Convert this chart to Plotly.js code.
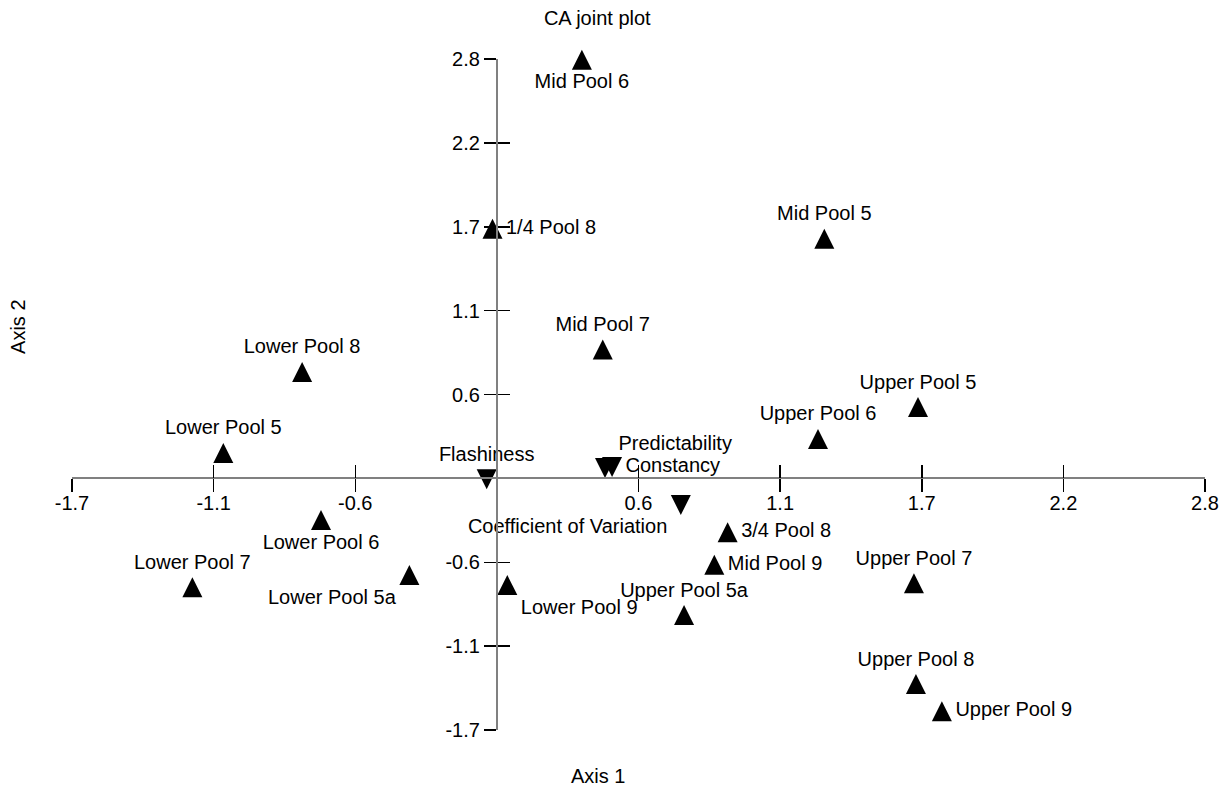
<!DOCTYPE html>
<html><head><meta charset="utf-8">
<script src="https://cdn.plot.ly/plotly-3.0.1.min.js"></script>
<style>html,body{margin:0;padding:0;background:#fff}#chart{width:1229px;height:787px}</style>
</head><body><div id="chart"></div>
<script>
// Sample units (sites)
const siteNames = ['Mid Pool 6','1/4 Pool 8','Mid Pool 5','Mid Pool 7','Lower Pool 8','Upper Pool 5',
  'Upper Pool 6','Lower Pool 5','Lower Pool 6','3/4 Pool 8','Mid Pool 9','Upper Pool 7',
  'Lower Pool 7','Lower Pool 5a','Lower Pool 9','Upper Pool 5a','Upper Pool 8','Upper Pool 9'];
const siteAxis1 = [0.325,-0.030,1.288,0.408,-0.786,1.660,1.263,-1.099,-0.711,0.904,0.851,1.644,
  -1.222,-0.360,0.029,0.731,1.652,1.755];
const siteAxis2 = [2.795,1.661,1.595,0.851,0.701,0.466,0.252,0.158,-0.292,-0.374,-0.591,-0.715,
  -0.742,-0.661,-0.728,-0.929,-1.392,-1.574];
// Variables
const varNames = ['Flashiness','Predictability','Constancy','Coefficient of Variation'];
const varAxis1 = [-0.053,0.417,0.445,0.718];
const varAxis2 = [-0.018,0.057,0.064,-0.191];
// Axis ticks: 9 evenly spaced slots between the axis ends; slot 3 is where the axes cross
const axisEnds = [-1.7, 2.8];
const tickSlots = [0,1,2,4,5,6,7,8];
const xTickLabels = ['-1.7','-1.1','-0.6','0.6','1.1','1.7','2.2','2.8'];
const yTickLabels = ['-1.7','-1.1','-0.6','0.6','1.1','1.7','2.2','2.8'];

const siteTextPos = ['bottom center','middle right','top center','top center','top center','top center',
  'top center','top center','bottom center','middle right','middle right','top center',
  'top center','bottom left','bottom right','top center','top center','middle right'];
const varTextPos = ['top center','top right','middle right','bottom left'];

const step = (axisEnds[1]-axisEnds[0])/8;
const tickVals = tickSlots.map(i => axisEnds[0] + i*step);
const crossFrac = 3/8;

const FONT = 'Liberation Sans, Arial, Helvetica, sans-serif';
const fontSpec = {family: FONT, size: 20, color: '#000'};
const MSIZE = 20;

// centred, equal width/height triangles built from arrow symbols
const upMarker = {symbol:'arrow-down', angle:180, standoff:MSIZE/2, size:MSIZE, color:'#000', line:{width:0}};
const downMarker = {symbol:'arrow-down', angle:0, standoff:MSIZE/2, size:MSIZE, color:'#000', line:{width:0}};

const traces = [
  {type:'scatter', mode:'markers+text', x: siteAxis1, y: siteAxis2, text: siteNames,
   textposition: siteTextPos, textfont: fontSpec, cliponaxis:false, marker: upMarker, name:'Sites'},
  {type:'scatter', mode:'markers+text', x: varAxis1, y: varAxis2, text: varNames,
   textposition: varTextPos, textfont: fontSpec, cliponaxis:false, marker: downMarker, name:'Variables'},
  {type:'scatter', mode:'markers', x:[], y:[], xaxis:'x2', yaxis:'y2', showlegend:false, hoverinfo:'skip'}
];

const axBase = {
  range: axisEnds.slice(), autorange:false, showgrid:false, zeroline:false, automargin:false,
  anchor:'free', position: crossFrac, tickmode:'array', tickvals: tickVals,
  tickcolor:'#000', tickwidth:1.5, fixedrange:true
};

const layout = {
  width:1229, height:787,
  margin:{l:72, r:24, t:59, b:57},
  paper_bgcolor:'#fff', plot_bgcolor:'#fff',
  showlegend:false,
  font:{family:FONT, size:20, color:'#000'},
  title:{text:'CA joint plot', font:{family:FONT, size:20, color:'#000'},
    xref:'container', yref:'container', x:0.486, y:0.977, xanchor:'center', yanchor:'middle'},
  xaxis: Object.assign({}, axBase, {ticktext: xTickLabels, ticks:'outside', ticklen:13,
    ticklabelstandoff:-6, showline:true, linecolor:'#808080', linewidth:2, tickfont:fontSpec}),
  yaxis: Object.assign({}, axBase, {ticktext: yTickLabels, ticks:'outside', ticklen:12,
    showline:true, linecolor:'#808080', linewidth:2, tickfont:fontSpec}),
  xaxis2: Object.assign({}, axBase, {overlaying:'x', ticks:'inside', ticklen:13,
    showticklabels:false, showline:false}),
  yaxis2: Object.assign({}, axBase, {overlaying:'y', ticks:'inside', ticklen:12,
    showticklabels:false, showline:false}),
  annotations:[
    {text:'Axis 1', xref:'paper', yref:'paper', x:0.464, y:-0.0686, xanchor:'center', yanchor:'middle',
     showarrow:false, font:fontSpec},
    {text:'Axis 2', xref:'paper', yref:'paper', x:-0.0477, y:0.6006, xanchor:'center', yanchor:'middle',
     textangle:-90, showarrow:false, font:fontSpec}
  ]
};

Plotly.newPlot('chart', traces, layout, {displayModeBar:false, staticPlot:true});
</script>
</body></html>
